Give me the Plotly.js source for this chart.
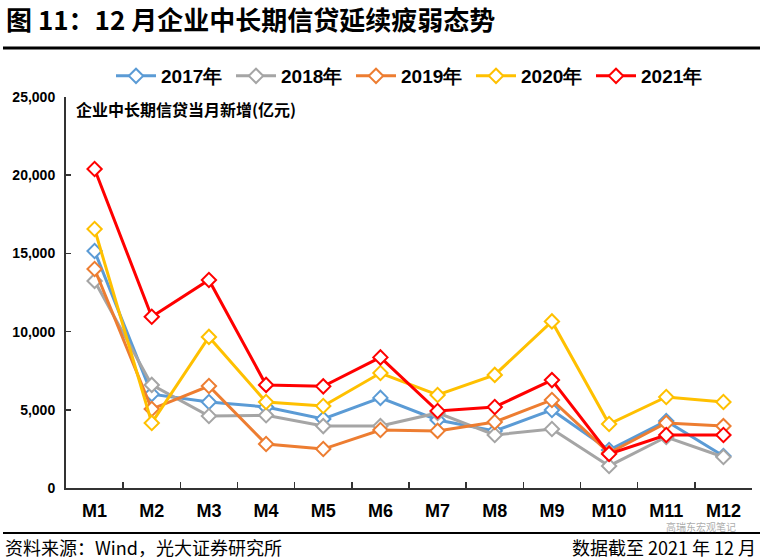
<!DOCTYPE html>
<html><head><meta charset="utf-8">
<script src="https://cdn.plot.ly/plotly-3.0.1.min.js"></script>
<style>html,body{margin:0;padding:0;background:#fff}#c{width:764px;height:560px}</style>
</head><body><div id="c"></div>
<script>
const months = ["M1","M2","M3","M4","M5","M6","M7","M8","M9","M10","M11","M12"];
const seriesNames = ["2017年","2018年","2019年","2020年","2021年"];
const v2017 = [15150,6000,5500,5180,4410,5760,4350,3650,4990,2430,4280,2050];
const v2018 = [13240,6590,4600,4650,3960,3960,4800,3390,3770,1410,3260,1980];
const v2019 = [14000,5050,6520,2810,2490,3710,3650,4220,5630,2240,4160,3960];
const v2020 = [16560,4160,9660,5500,5240,7350,5950,7230,10650,4090,5820,5500];
const v2021 = [20400,10950,13300,6590,6500,8350,4920,5180,6900,2180,3390,3390];
const colors = ["#5B9BD5","#A5A5A5","#ED7D31","#FFC000","#FF0000"];
const allVals = [v2017,v2018,v2019,v2020,v2021];
const yTicks = [0,5000,10000,15000,20000,25000];

const cjk = '"Noto Sans CJK SC", "Noto Sans", sans-serif';
const num = '"Liberation Sans Narrow", "Liberation Sans", Arial, sans-serif';

const traces = allVals.map((v,i)=>({
  type:'scatter', mode:'lines+markers', name:seriesNames[i], x:months, y:v,
  line:{color:colors[i], width:3},
  marker:{symbol:'diamond', size:11, color:'#fff', line:{color:colors[i], width:2}}
}));

const W=686,H=391,L=66,T=97;
const px=x=>(x-L)/W, py=y=>(T+H-y)/H;

const layout = {
  width:764, height:560,
  margin:{l:66,r:12,t:97,b:72},
  paper_bgcolor:'#fff', plot_bgcolor:'#fff',
  showlegend:true,
  legend:{orientation:'h', x:px(111), xanchor:'left', y:py(76), yanchor:'middle',
    font:{family:num, size:19, color:'#000', weight:'bold'}, entrywidth:65, entrywidthmode:'pixels',
    itemwidth:40, bgcolor:'rgba(0,0,0,0)'},
  xaxis:{type:'category', tickson:'boundaries', ticks:'inside', ticklen:6, tickcolor:'#333', tickwidth:1.5,
    showline:true, linecolor:'#333', linewidth:2, showgrid:false, zeroline:false,
    tickfont:{family:num, size:18, color:'#000', weight:'bold'}, ticklabelstandoff:5, range:[-0.5,11.5]},
  yaxis:{range:[0,25000], tickvals:yTicks, ticktext:yTicks.map(t=>t.toLocaleString('en-US')),
    ticks:'inside', ticklen:5, tickcolor:'#333', tickwidth:1.5,
    showline:true, linecolor:'#333', linewidth:2, showgrid:false, zeroline:false,
    tickfont:{family:num, size:14, color:'#000', weight:'bold'}, ticklabelstandoff:6},
  shapes:[
    {type:'line', xref:'paper', yref:'paper', x0:px(3), x1:px(760), y0:py(48), y1:py(48), line:{color:'#000', width:3}},
    {type:'line', xref:'paper', yref:'paper', x0:px(3), x1:px(760), y0:py(533), y1:py(533), line:{color:'#000', width:2}}
  ],
  annotations:[
    {xref:'paper', yref:'paper', x:px(4), y:py(19), xanchor:'left', yanchor:'middle', showarrow:false,
      text:'图 11：12 月企业中长期信贷延续疲弱态势', font:{family:cjk, size:26, color:'#000', weight:'bold'}},
    {xref:'paper', yref:'paper', x:px(74), y:py(109), xanchor:'left', yanchor:'middle', showarrow:false,
      text:'企业中长期信贷当月新增(亿元)', font:{family:cjk, size:16, color:'#000', weight:'bold'}},
    {xref:'paper', yref:'paper', x:px(3), y:py(547), xanchor:'left', yanchor:'middle', showarrow:false,
      text:'资料来源：Wind，光大证券研究所', font:{family:cjk, size:18, color:'#000'}},
    {xref:'paper', yref:'paper', x:px(758), y:py(547), xanchor:'right', yanchor:'middle', showarrow:false,
      text:'数据截至 2021 年 12 月', font:{family:cjk, size:18, color:'#000'}},
    {xref:'paper', yref:'paper', x:px(738), y:py(526), xanchor:'right', yanchor:'middle', showarrow:false,
      text:'高瑞东宏观笔记', font:{family:cjk, size:10, color:'rgba(150,150,150,0.8)'}}
  ]
};
Plotly.newPlot('c', traces, layout, {displayModeBar:false, staticPlot:true});
</script></body></html>
